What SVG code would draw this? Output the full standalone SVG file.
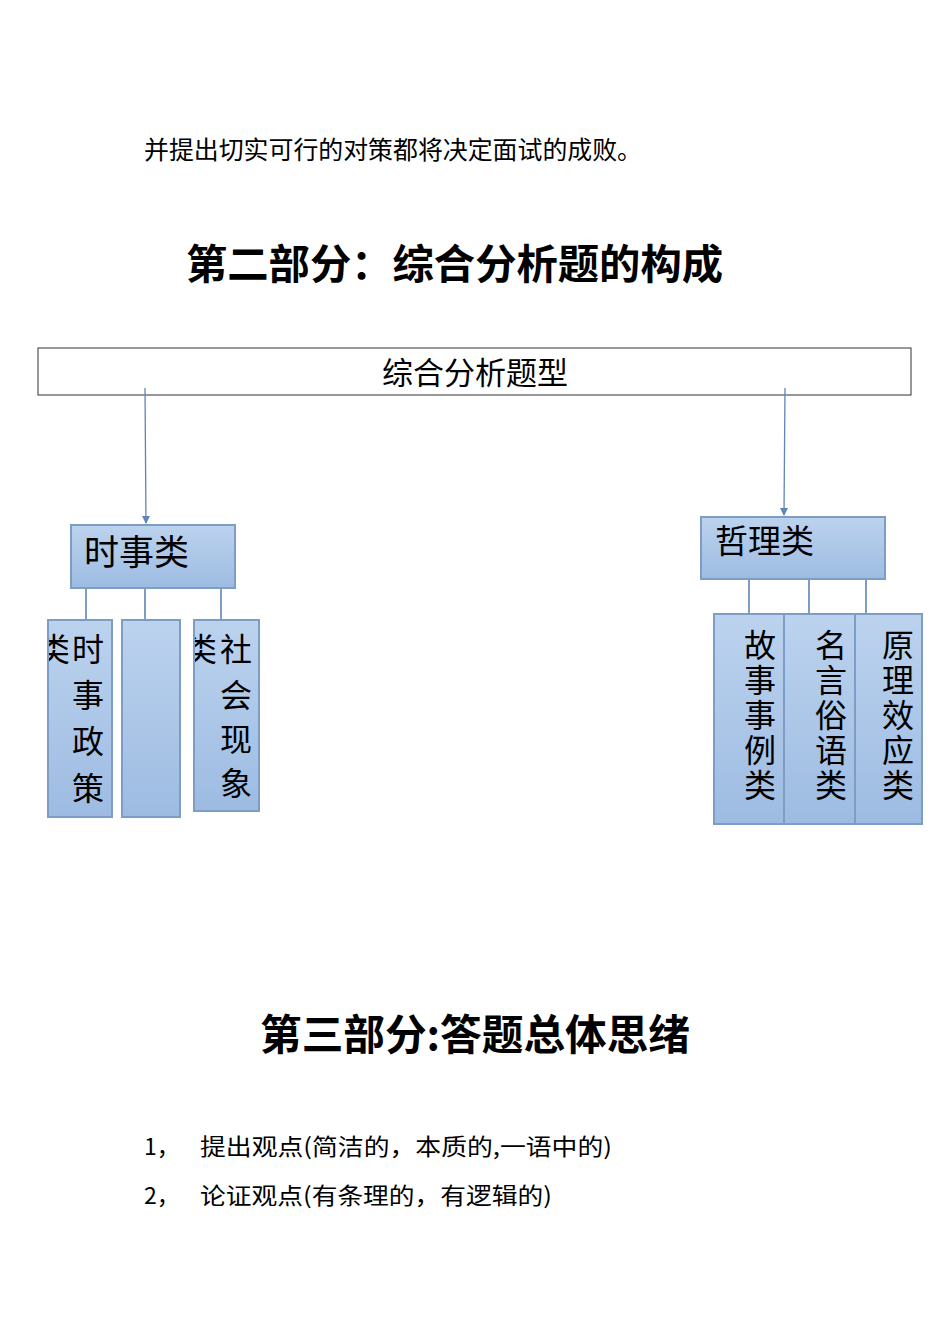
<svg xmlns="http://www.w3.org/2000/svg" width="950" height="1344" viewBox="0 0 950 1344">
<style>
.t{font-family:"Noto Sans CJK SC","Noto Sans",sans-serif;fill:#000}
.b{fill:url(#g);stroke:#7e9dc4;stroke-width:2}
.c{stroke:#7e9dc4;stroke-width:2;fill:none}
.a{stroke:#5f86b8;stroke-width:1.3;fill:none}
.v{font-family:"Noto Sans CJK SC",sans-serif;font-size:32px;text-anchor:middle}
</style>
<defs>
<linearGradient id="g" x1="0" y1="0" x2="0" y2="1"><stop offset="0" stop-color="#bcd3ee"/><stop offset="1" stop-color="#9dbbe2"/></linearGradient>
<clipPath id="c1"><rect x="49" y="620" width="63" height="197"/></clipPath>
<clipPath id="c3"><rect x="195" y="620" width="64" height="191"/></clipPath>
</defs>
<rect width="950" height="1344" fill="#fff"/>
<text class="t" x="144" y="159" font-size="24.5" textLength="498" lengthAdjust="spacingAndGlyphs">并提出切实可行的对策都将决定面试的成败。</text>
<text class="t" x="186" y="279" font-size="41" font-weight="bold" textLength="537" lengthAdjust="spacingAndGlyphs">第二部分：综合分析题的构成</text>
<g id="root"><rect x="38" y="348" width="873" height="47" fill="#fff" stroke="#333" stroke-width="1"/>
<text class="t" x="475" y="384" font-size="31" text-anchor="middle">综合分析题型</text></g>
<g id="connectors">
<line class="a" x1="145" y1="388" x2="146" y2="523"/>
<path d="M142,516 L150,516 L146,524 Z" fill="#5f86b8"/>
<line class="a" x1="785" y1="388" x2="784" y2="515"/>
<path d="M780,508 L788,508 L784,516 Z" fill="#5f86b8"/>
<path class="c" d="M86,588V620M145,588V620M221,588V620M749,579V614M809,579V614M866,579V614"/>
</g>
<g id="shishi"><rect class="b" x="71" y="525" width="164" height="63"/><text class="t" x="84" y="565" font-size="35">时事类</text></g>
<g id="zheli"><rect class="b" x="701" y="517" width="184" height="62"/><text class="t" x="715" y="553" font-size="33">哲理类</text></g>
<g id="l1"><rect class="b" x="48" y="620" width="64" height="197"/>
<g clip-path="url(#c1)" class="v"><text x="54" y="661">类</text><text x="88" y="661">时</text><text x="88" y="707">事</text><text x="88" y="753">政</text><text x="88" y="800">策</text></g></g>
<g id="l2"><rect class="b" x="122" y="620" width="58" height="197"/></g>
<g id="l3"><rect class="b" x="194" y="620" width="65" height="191"/>
<g clip-path="url(#c3)" class="v"><text x="201" y="661">类</text><text x="236" y="661">社</text><text x="236" y="707">会</text><text x="236" y="751">现</text><text x="236" y="795">象</text></g></g>
<g id="r1"><rect class="b" x="714" y="614" width="70" height="210"/>
<g class="v"><text x="760" y="657">故</text><text x="760" y="692">事</text><text x="760" y="727">事</text><text x="760" y="762">例</text><text x="760" y="797">类</text></g></g>
<g id="r2"><rect class="b" x="784" y="614" width="71" height="210"/>
<g class="v"><text x="831" y="657">名</text><text x="831" y="692">言</text><text x="831" y="727">俗</text><text x="831" y="762">语</text><text x="831" y="797">类</text></g></g>
<g id="r3"><rect class="b" x="855" y="614" width="67" height="210"/>
<g class="v"><text x="898" y="657">原</text><text x="898" y="692">理</text><text x="898" y="727">效</text><text x="898" y="762">应</text><text x="898" y="797">类</text></g></g>
<text class="t" x="260" y="1050" font-size="42" font-weight="bold" textLength="430" lengthAdjust="spacingAndGlyphs">第三部分:答题总体思绪</text>
<text class="t" x="144" y="1155" font-size="23">1，</text>
<text class="t" x="200" y="1155" font-size="23" textLength="412" lengthAdjust="spacingAndGlyphs">提出观点(简洁的，本质的,一语中的)</text>
<text class="t" x="144" y="1204" font-size="23">2，</text>
<text class="t" x="200" y="1204" font-size="23" textLength="352" lengthAdjust="spacingAndGlyphs">论证观点(有条理的，有逻辑的)</text>
</svg>
